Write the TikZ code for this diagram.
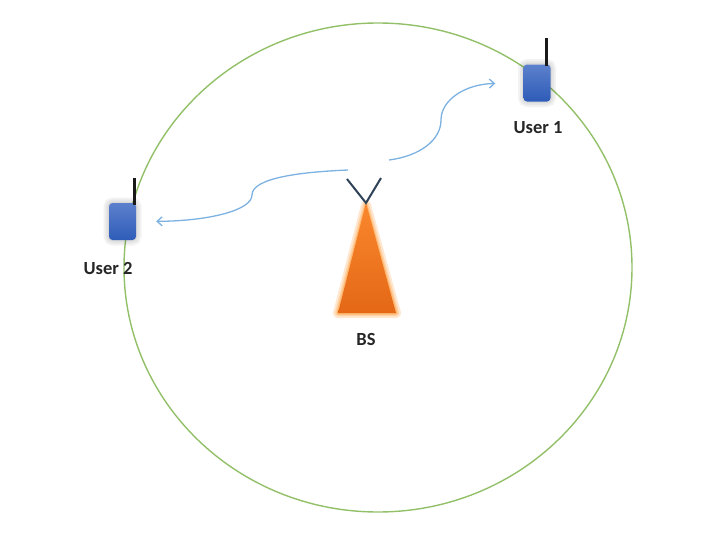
\documentclass[tikz,border=0pt]{standalone}
\usepackage{fontspec}
\setmainfont{Carlito}
\usetikzlibrary{arrows.meta}
\definecolor{cellgreen}{RGB}{146,192,104}
\definecolor{beamblue}{RGB}{124,178,226}
\definecolor{unittop}{RGB}{92,128,204}
\definecolor{unitbot}{RGB}{46,92,184}
\definecolor{towertop}{RGB}{250,135,45}
\definecolor{towerbot}{RGB}{228,104,22}
\definecolor{mastblue}{RGB}{48,66,88}
\tikzset{
    unitbox/.style={draw=none, rounded corners=3.5, minimum width=27, minimum height=37, inner sep=0,
        top color=unittop, bottom color=unitbot},
    unitglow/.style={draw=black, opacity=0.05, line width=#1, rounded corners=4, minimum width=27, minimum height=37, inner sep=0},
    whip/.style={line width=3, black!90},
    beam/.style={beamblue, line width=1.3, -{Straight Barb[length=5,width=9]}},
    tag/.style={font=\fontsize{18.5}{20}\selectfont\bfseries, text=black!85}
}
\begin{document}
\begin{tikzpicture}[x=1pt,y=-1pt]
    \useasboundingbox (0,0) rectangle (718,541);
    % cell edge
    \draw[cellgreen, line width=1.4] (378,267.5) ellipse [x radius=254, y radius=244.5];
    % base station
    \draw[orange!18, line width=10, line join=round] (366,205) -- (338,313) -- (396,313) -- cycle;
    \draw[orange!35, line width=6, line join=round] (366,205) -- (338,313) -- (396,313) -- cycle;
    \draw[orange!55, line width=3, line join=round] (366,205) -- (338,313) -- (396,313) -- cycle;
    \shade[top color=towertop, bottom color=towerbot] (366,203) -- (338,313) -- (396,313) -- cycle;
    \coordinate (feed) at (366,203);
    \coordinate (leftTip) at (347,179);
    \coordinate (rightTip) at (381,178);
    \draw[line width=2, mastblue] (leftTip) -- (feed) -- (rightTip);
    \node[tag] (bsLabel) at (366,339) {BS};
    % users
    \foreach \name/\px/\py in {userOne/537/83, userTwo/122.5/221.5} {
        \node[unitglow=11] at (\px,\py) {};
        \node[unitglow=7] at (\px,\py) {};
        \node[unitglow=3] at (\px,\py) {};
        \node[unitbox] (\name) at (\px,\py) {};
    }
    \coordinate (whipOne) at (546.5,38);
    \coordinate (whipTwo) at (134,178);
    \draw[whip] (whipOne) -- (546.5,66);
    \draw[whip] (whipTwo) -- (134,205);
    \node[tag] (userOneLabel) at (538,128) {User 1};
    \node[tag] (userTwoLabel) at (108,268) {User 2};
    % beams
    \coordinate (beamOne) at (389,160);
    \coordinate (beamTwo) at (348,170);
    \draw[beam, shorten >=28] (beamOne) .. controls (420,156) and (441,140) .. (441,120)
        .. controls (441,100) and (465,84) .. (userOne.west);
    \draw[beam, shorten >=20] (beamTwo) .. controls (300,172) and (252,178) .. (252,195)
        .. controls (252,210) and (210,221) .. (userTwo.east);
\end{tikzpicture}
\end{document}
